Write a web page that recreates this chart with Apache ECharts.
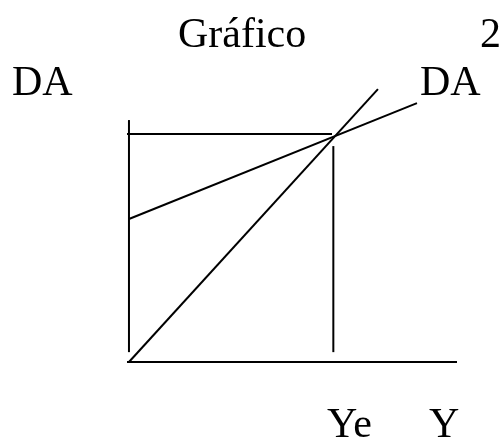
<!DOCTYPE html>
<html>
<head>
<meta charset="utf-8">
<script src="https://cdn.jsdelivr.net/npm/echarts@6/dist/echarts.min.js"></script>
<style>
html, body { margin: 0; padding: 0; background: #fff; }
#chart { width: 503px; height: 437px; }
</style>
</head>
<body>
<div id="chart"></div>
<script>
// datos del gráfico (unidades del eje: 0..100)
const lineaDA = [[0, 52.2], [87.8, 94.5]]
const linea45 = [[0, 0], [75.9, 99.6]]
const lineaEquilibrioH = [[-0.6, 83.2], [61.9, 83.2]]
const lineaEquilibrioV = [[62.3, 3.6], [62.3, 78.8]]
const ejeVertical = [[0, 3.6], [0, 88.3]]
const ejeHorizontal = [[-0.6, 0], [100, 0]]
const etiquetas = ['Gráfico', '2', 'DA', 'DA', 'Ye', 'Y']

const chart = echarts.init(document.getElementById('chart'))

const lineStyle = { color: '#000', width: 2 }
const mkLine = (name, data) => ({
  name: name,
  type: 'line',
  data: data,
  symbol: 'none',
  silent: true,
  lineStyle: lineStyle,
})

const font = '42px "Liberation Serif", "Times New Roman", serif'
const txt = (text, x, y) => ({
  type: 'text',
  x: x,
  y: y,
  style: { text: text, font: font, fill: '#000', verticalAlign: 'middle' },
})

const option = {
  animation: false,
  backgroundColor: '#fff',
  grid: { left: 127, right: 46, top: 88, bottom: 75, containLabel: false },
  xAxis: { type: 'value', min: -0.6, max: 100, show: false },
  yAxis: { type: 'value', min: 0, max: 100, show: false },
  series: [
    mkLine('eje vertical', ejeVertical),
    mkLine('eje horizontal', ejeHorizontal),
    mkLine('equilibrio h', lineaEquilibrioH),
    mkLine('equilibrio v', lineaEquilibrioV),
    mkLine('45', linea45),
    mkLine('DA', lineaDA),
  ],
  graphic: [
    txt(etiquetas[0], 178, 36),
    txt(etiquetas[1], 480, 36),
    txt(etiquetas[2], 12, 84),
    txt(etiquetas[3], 420, 84),
    txt(etiquetas[4], 327, 426),
    txt(etiquetas[5], 429, 426),
  ],
}
chart.setOption(option)
</script>
</body>
</html>
